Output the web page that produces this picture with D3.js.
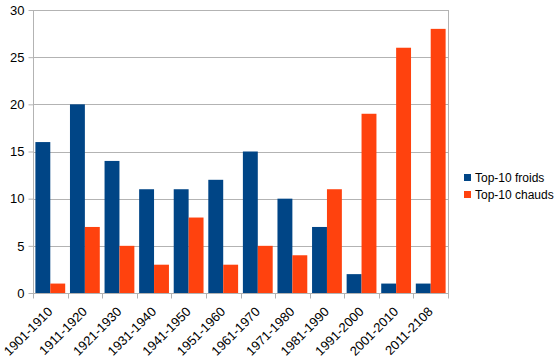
<!DOCTYPE html>
<html><head><meta charset="utf-8">
<script src="https://cdn.jsdelivr.net/npm/d3@7"></script>
<style>body{margin:0;background:#fff}svg{display:block}</style>
</head><body>
<svg id="c" width="560" height="360"></svg>
<script>
const categories = ["1901-1910","1911-1920","1921-1930","1931-1940","1941-1950","1951-1960","1961-1970","1971-1980","1981-1990","1991-2000","2001-2010","2011-2108"];
const froids = [16,20,14,11,11,12,15,10,7,2,1,1];
const chauds = [1,7,5,3,8,3,5,4,11,19,26,28];
const seriesNames = ["Top-10 froids","Top-10 chauds"];
const yTicks = [0,5,10,15,20,25,30];

const colors = ["#004586","#ff420e"];
const svg = d3.select("#c");
const L = 33, R = 448, T = 10, B = 293;
const font = "Liberation Sans, Arial, sans-serif";
const axisColor = "#b3b3b3";

const x = d3.scaleBand().domain(categories).range([L, R]).paddingInner(0).paddingOuter(0);
const xs = d3.scaleBand().domain([0,1]).range([0, x.bandwidth()]).paddingInner(0).paddingOuter(0.16);
const y = d3.scaleLinear().domain([0,30]).range([B, T]);

// gridlines
svg.append("g").selectAll("line").data(yTicks).join("line")
  .attr("x1", L).attr("x2", R).attr("y1", d=>Math.round(y(d))+0.5).attr("y2", d=>Math.round(y(d))+0.5)
  .attr("stroke", axisColor).attr("stroke-width",1);

// right border
svg.append("line").attr("x1", R+0.5).attr("x2", R+0.5).attr("y1", T).attr("y2", B+5).attr("stroke", axisColor);

// bars
const data = [froids, chauds];
data.forEach((vals, si) => {
  svg.append("g").selectAll("rect").data(vals).join("rect")
    .attr("x", (d,i)=> x(categories[i]) + xs(si))
    .attr("width", xs.bandwidth())
    .attr("y", d=>y(d))
    .attr("height", d=>y(0)-y(d))
    .attr("fill", colors[si]);
});

// y axis
const yAxis = d3.axisLeft(y).tickValues(yTicks).tickSize(5).tickPadding(4);
const gy = svg.append("g").attr("transform", `translate(${L+0.5},0)`).call(yAxis);
gy.select(".domain").attr("stroke", axisColor).attr("d", `M0,${T}V${B+5}`);
gy.selectAll(".tick line").attr("stroke", axisColor);
gy.selectAll(".tick text").attr("font-family", font).attr("font-size", 13).attr("fill","#000");

// x axis
const gx = svg.append("g").attr("transform", `translate(0,${Math.round(B)+0.5})`);
gx.append("line").attr("x1", L).attr("x2", R).attr("stroke", axisColor);
const bounds = categories.map(c=>x(c)).concat([R]);
gx.selectAll("line.t").data(bounds).join("line").attr("class","t")
  .attr("x1", d=>Math.round(d)+0.5).attr("x2", d=>Math.round(d)+0.5).attr("y1",0).attr("y2",5)
  .attr("stroke", axisColor);
gx.selectAll("text").data(categories).join("text")
  .attr("transform", d=>`translate(${x(d)+x.bandwidth()/2+3},${19}) rotate(-45)`)
  .attr("text-anchor","end")
  .attr("font-family", font).attr("font-size", 13).attr("fill","#000")
  .text(d=>d);

// legend
const lg = svg.append("g");
seriesNames.forEach((n,i)=>{
  lg.append("rect").attr("x",464).attr("y",174+i*17).attr("width",7).attr("height",7).attr("fill",colors[i]);
  lg.append("text").attr("x",475).attr("y",182+i*17).attr("font-family",font).attr("font-size",12).attr("fill","#000").text(n);
});
</script>
</body></html>
